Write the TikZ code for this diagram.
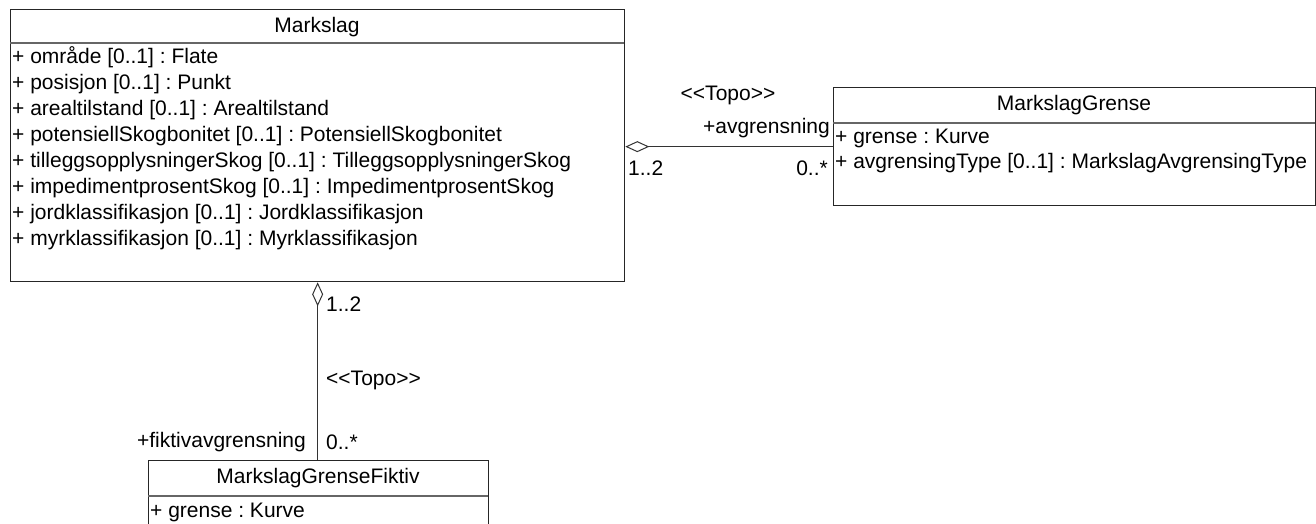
\documentclass[tikz,border=0pt]{standalone}
\usepackage{fontspec}
\setmainfont{Liberation Sans}[Ligatures=TeXOff]
\usetikzlibrary{arrows.meta}
\tikzset{
  every node/.style={font=\fontsize{21}{24}\selectfont\frenchspacing, text=black},
  classbox/.style={draw=black!85, line width=1.3pt, rectangle, inner sep=0pt, anchor=north west},
  sep/.style={draw=black!60, line width=1.3pt},
  attr/.style={inner sep=0pt, anchor=mid west},
  lbl/.style={inner sep=0pt},
  conn/.style={draw=black!80, line width=1pt},
  agg/.style={-{Diamond[open, length=24pt, width=11pt, line width=1pt]}},
}
\begin{document}
\begin{tikzpicture}[x=1pt, y=-1pt]
\useasboundingbox (0,0) rectangle (1316,524);
\clip (0,0) rectangle (1316,524);
\fill[white] (0,0) rectangle (1316,524);

% Markslag
\node[classbox, minimum width=614pt, minimum height=272pt] (ml) at (10,9) {};
\draw[sep] (10,43) -- (624,43);
\node[lbl] (mlt) at (317,27) {Markslag};
\node[attr] (a1) at (12,61) {+ område [0..1] : Flate};
\node[attr] (a2) at (12,87) {+ posisjon [0..1] : Punkt};
\node[attr] (a3) at (12,113) {+ arealtilstand [0..1] : Arealtilstand};
\node[attr] (a4) at (12,139) {+ potensiellSkogbonitet [0..1] : PotensiellSkogbonitet};
\node[attr] (a5) at (12,165) {+ tilleggsopplysningerSkog [0..1] : TilleggsopplysningerSkog};
\node[attr] (a6) at (12,191) {+ impedimentprosentSkog [0..1] : ImpedimentprosentSkog};
\node[attr] (a7) at (12,217) {+ jordklassifikasjon [0..1] : Jordklassifikasjon};
\node[attr] (a8) at (12,243) {+ myrklassifikasjon [0..1] : Myrklassifikasjon};

% MarkslagGrense
\node[classbox, minimum width=482pt, minimum height=118pt] (mg) at (833,87) {};
\draw[sep] (833,123) -- (1315,123);
\node[lbl] (mgt) at (1074,105) {MarkslagGrense};
\node[attr] (g1) at (835,141) {+ grense : Kurve};
\node[attr] (g2) at (835,166) {+ avgrensingType [0..1] : MarkslagAvgrensingType};

% MarkslagGrenseFiktiv
\node[classbox, minimum width=340pt, minimum height=100pt] (mgf) at (148,460) {};
\draw[sep] (148,496) -- (488,496);
\node[lbl] (mgft) at (318,478) {MarkslagGrenseFiktiv};
\node[attr] (f1) at (150,515) {+ grense : Kurve};

% connectors
\draw[conn, agg] (mg.west) -- (ml.east |- mg.west);
\draw[conn, agg] (ml.south |- mgf.north) -- (ml.south);

% labels horizontal
\node[lbl] (t1) at (728,95) {<<Topo>>};
\node[lbl, anchor=east] (r1) at (830,128) {+avgrensning};
\node[lbl, anchor=west] (m1) at (628,168) {1..2};
\node[lbl, anchor=east] (m2) at (828,168) {0..*};

% labels vertical
\node[lbl, anchor=west] (m3) at (326,304) {1..2};
\node[lbl, anchor=west] (t2) at (326,380) {<<Topo>>};
\node[lbl, anchor=east] (r2) at (306,442) {+fiktivavgrensning};
\node[lbl, anchor=west] (m4) at (326,442) {0..*};
\end{tikzpicture}
\end{document}
